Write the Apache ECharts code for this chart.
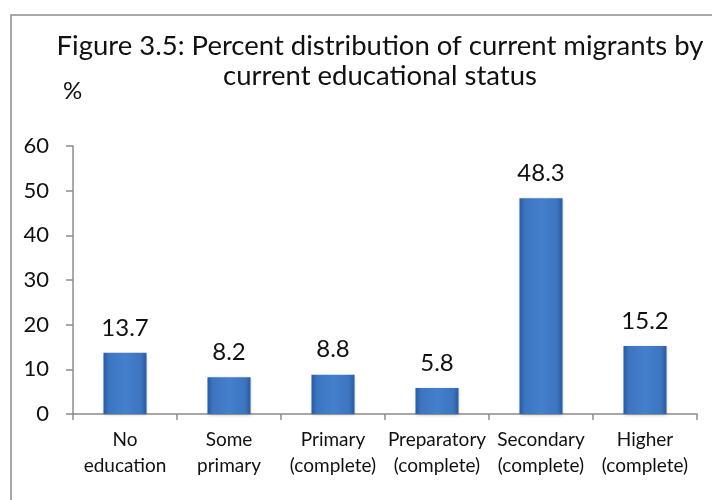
<!DOCTYPE html>
<html><head><meta charset="utf-8">
<script src="https://cdn.jsdelivr.net/npm/echarts@6/dist/echarts.min.js"></script>
<style>html,body{margin:0;padding:0;background:#fff}#c{width:712px;height:500px}</style>
</head><body><div id="c"></div>
<script>
const categories = ['No\neducation','Some\nprimary','Primary\n(complete)','Preparatory\n(complete)','Secondary\n(complete)','Higher\n(complete)'];
const values = [13.7, 8.2, 8.8, 5.8, 48.3, 15.2];
const yTicks = [0, 10, 20, 30, 40, 50, 60];
const titleLines = ['Figure 3.5: Percent distribution of current migrants by', 'current educational status'];
const yUnit = '%';

const FONT = 'Lato';
const chart = echarts.init(document.getElementById('c'), null, {renderer:'canvas'});
chart.setOption({
  animation:false,
  backgroundColor:'#fff',
  graphic:[
    {type:'rect', shape:{x:11,y:15,width:720,height:520}, style:{fill:'none', stroke:'#8c8c8c', lineWidth:1.5}, silent:true},
    {type:'text', x:380, y:31, style:{text:titleLines.join('\n'), font:'27.5px '+FONT, fill:'#111', align:'center', textAlign:'center', lineHeight:30}},
    {type:'text', x:63, y:79, style:{text:yUnit, font:'24px '+FONT, fill:'#111'}}
  ],
  grid:{left:73, right:15, top:146, bottom:86, containLabel:false},
  xAxis:{
    type:'category', data:categories,
    axisLine:{lineStyle:{color:'#8c8c8c', width:1.5}},
    axisTick:{show:true, length:6, alignWithLabel:false, lineStyle:{color:'#8c8c8c', width:1.5}},
    axisLabel:{color:'#111', fontFamily:FONT, fontSize:19, lineHeight:26, margin:13, interval:0}
  },
  yAxis:{
    type:'value', min:yTicks[0], max:yTicks[yTicks.length-1], interval:10,
    splitLine:{show:false},
    axisLine:{show:true, lineStyle:{color:'#8c8c8c', width:1.5}},
    axisTick:{show:true, length:7, lineStyle:{color:'#8c8c8c', width:1.5}},
    axisLabel:{color:'#111', fontFamily:FONT, fontSize:22, margin:24}
  },
  series:[{
    type:'bar', data:values, barWidth:43,
    itemStyle:{
      color:new echarts.graphic.LinearGradient(0,0,1,0,[
        {offset:0,color:'#2a5a9e'},{offset:0.12,color:'#3c74c0'},{offset:0.5,color:'#4580cc'},{offset:0.88,color:'#3c74c0'},{offset:1,color:'#2a5a9e'}
      ]),
      shadowColor:'rgba(0,0,0,0.25)', shadowBlur:3, shadowOffsetY:1
    },
    label:{show:true, position:'top', distance:13, color:'#111', fontFamily:FONT, fontSize:24, formatter:p=>p.value.toFixed(1)}
  }]
});
</script></body></html>
